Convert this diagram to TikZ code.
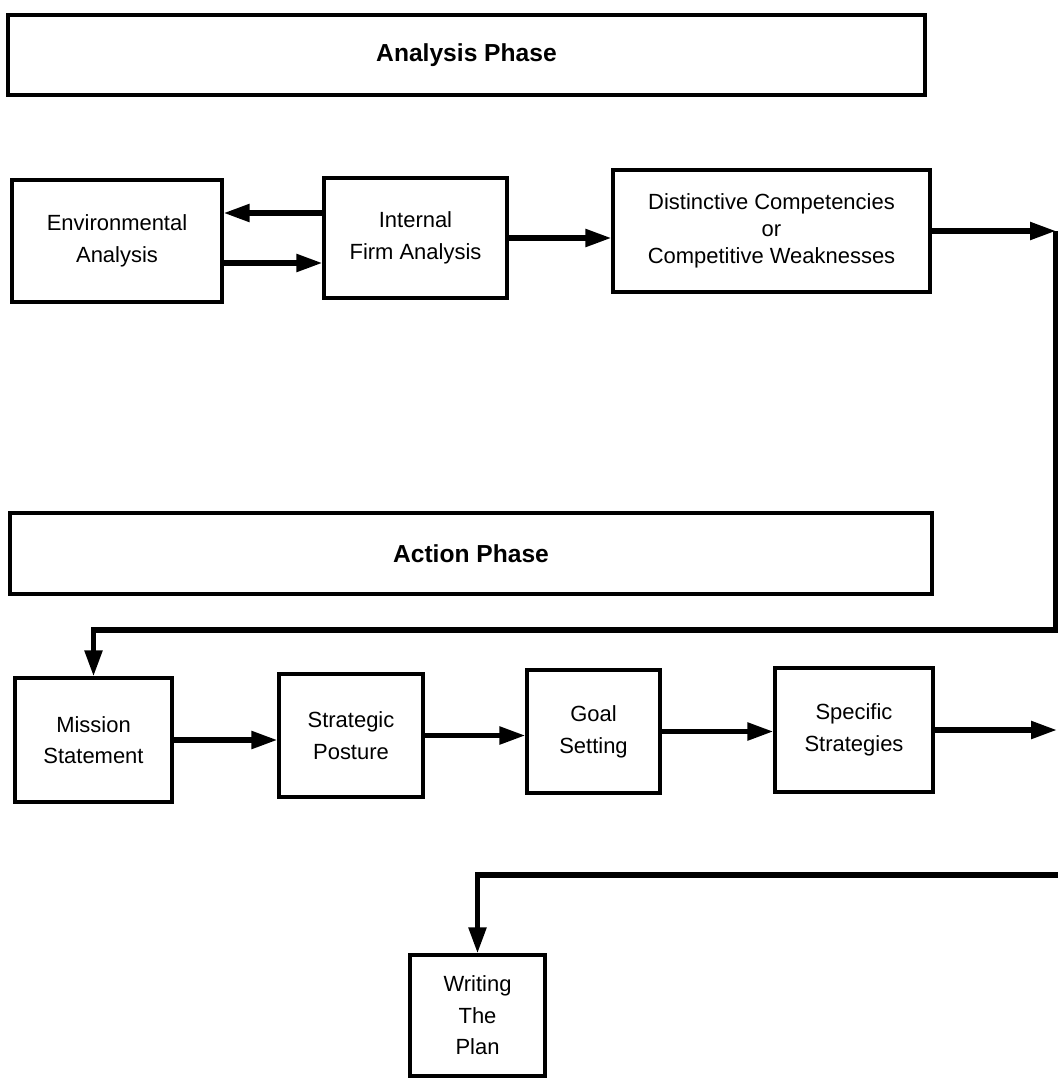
\documentclass[tikz,border=0pt]{standalone}
\usepackage{fontspec}
\setmainfont{Liberation Sans}
\usetikzlibrary{arrows.meta}

\begin{document}
\begin{tikzpicture}[every node/.style={align=center, font=\fontsize{12.5}{18}\selectfont},
box/.style={draw, line width=1.8pt, inner sep=0pt, minimum width=#1},
phase/.style={draw, line width=1.8pt, inner sep=0pt, minimum height=1.6cm, font=\fontsize{14}{16}\selectfont\bfseries},
arr/.style={line width=3pt, -{Triangle[length=0.52cm, width=0.34cm]}}]
\useasboundingbox (0,0) rectangle (21.16,-21.56);
%================================================================
%	Phases
\node[phase, minimum width=18.34cm] (an) at (9.33,-1.10) {Analysis Phase};
\node[phase, minimum width=18.44cm, minimum height=1.62cm] (ac) at (9.42,-11.07) {Action Phase};

%================================================================
%	Nodes
\node[box=4.2cm, minimum height=2.44cm] (env) at (2.34,-4.82) {Environmental\\Analysis};
\node[box=3.66cm, minimum height=2.4cm] (ifa) at (8.31,-4.76) {Internal\\Firm Analysis};
\node[box=6.34cm, minimum height=2.44cm, font=\fontsize{12.5}{15.5}\selectfont] (dc) at (15.43,-4.62) {Distinctive Competencies\\or\\Competitive Weaknesses};

%----------------------------------------------------------------
\node[box=3.14cm, minimum height=2.48cm] (mis) at (1.87,-14.80) {Mission\\Statement};
\node[box=2.88cm, minimum height=2.46cm] (sp) at (7.02,-14.71) {Strategic\\Posture};
\node[box=2.66cm, minimum height=2.46cm] (gs) at (11.87,-14.63) {Goal\\Setting};
\node[box=3.16cm, minimum height=2.48cm] (ss) at (17.08,-14.60) {Specific\\Strategies};

\node[box=2.7cm, minimum height=2.42cm] (wp) at (9.55,-20.31) {Writing\\The\\Plan};

%----------------------------------------------------------------
\coordinate (ne) at (21.12,-4.62);
\coordinate (se) at (21.12,-12.60);
\coordinate (re) at (21.14,-14.50);
\coordinate (rb) at (21.16,-17.50);
%================================================================
%	Lines
\draw [arr] ([yshift=0.5cm]ifa.west) -- ([yshift=0.5cm]ifa.west -| env.east);
\draw [arr] ([yshift=-0.5cm]ifa.west -| env.east) -- ([yshift=-0.5cm]ifa.west);
\draw [arr] (ifa.east) -- (ifa.east -| dc.west);
\draw [arr] (dc.east) -- (ne);
\draw [arr] (ne) -- (se) -| (mis.north);

\draw [arr] (mis.east) -- (mis.east -| sp.west);
\draw [arr] (sp.east) -- (sp.east -| gs.west);
\draw [arr] (gs.east) -- (gs.east -| ss.west);
\draw [arr] (ss.east) -- (ss.east -| re);
\draw [arr] (rb) -| (wp.north);
%================================================================
\end{tikzpicture}
\end{document}
